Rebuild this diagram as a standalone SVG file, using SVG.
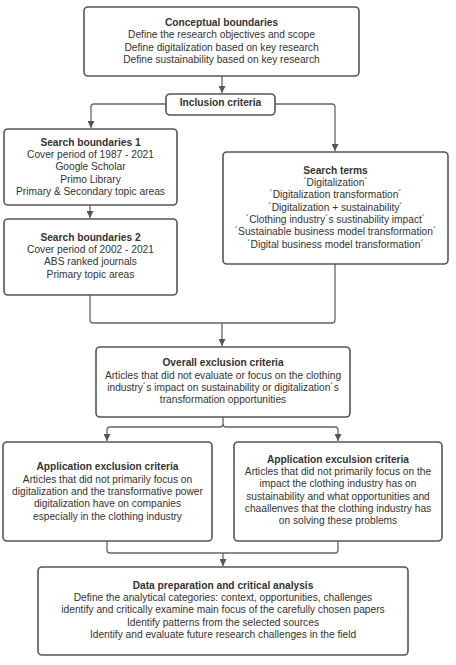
<svg xmlns="http://www.w3.org/2000/svg" width="456" height="665" viewBox="0 0 456 665">
<style>
.box{fill:#fff;stroke:#555;stroke-width:1.6}
.ln{fill:none;stroke:#666;stroke-width:1.3}
text{font-family:"Liberation Sans",Arial,sans-serif;font-size:10.2px;fill:#333;text-anchor:middle}
.t{font-weight:bold}
</style>
<defs>
<marker id="ah" viewBox="0 0 10 10" refX="10" refY="5" markerWidth="7" markerHeight="7" markerUnits="userSpaceOnUse" orient="auto">
<path d="M0,0 L10,5 L0,10 Z" fill="#555"/>
</marker>
</defs>
<rect width="456" height="665" fill="#fff"/>
<g id="connectors">
<path class="ln" d="M222,76 V93" marker-end="url(#ah)"/>
<path class="ln" d="M166,104 H94 Q91,104 91,107 V128" marker-end="url(#ah)"/>
<path class="ln" d="M275,104 H332 Q335,104 335,107 V151" marker-end="url(#ah)"/>
<path class="ln" d="M90,205 V218" marker-end="url(#ah)"/>
<path class="ln" d="M90,295 V320 Q90,323 93,323 H332 Q335,323 335,320 V264"/>
<path class="ln" d="M222,323 V346" marker-end="url(#ah)"/>
<path class="ln" d="M223,417 V424 Q223,427 220,427 H110 Q107,427 107,430 V441" marker-end="url(#ah)"/>
<path class="ln" d="M223,424 Q223,427 226,427 H335 Q338,427 338,430 V441" marker-end="url(#ah)"/>
<path class="ln" d="M107,541 V550 Q107,553 110,553 H335 Q338,553 338,550 V541"/>
<path class="ln" d="M223,553 V566" marker-end="url(#ah)"/>
</g>
<g id="conceptual">
<rect class="box" x="84" y="7" width="275" height="69" rx="4"/>
<text x="221.5" y="26" class="t">Conceptual boundaries</text>
<text x="221.5" y="38.3">Define the research objectives and scope</text>
<text x="221.5" y="50.6">Define digitalization based on key research</text>
<text x="221.5" y="62.9">Define sustainability based on key research</text>
</g>
<g id="inclusion">
<rect class="box" x="166" y="94" width="109" height="21" rx="4"/>
<text x="220.5" y="105.5" class="t">Inclusion criteria</text>
</g>
<g id="sb1">
<rect class="box" x="4" y="129" width="173" height="76" rx="4"/>
<text x="90.5" y="145.7" class="t">Search boundaries 1</text>
<text x="90.5" y="158">Cover period of 1987 - 2021</text>
<text x="90.5" y="170.3">Google Scholar</text>
<text x="90.5" y="182.6">Primo Library</text>
<text x="90.5" y="194.9">Primary &amp; Secondary topic areas</text>
</g>
<g id="sb2">
<rect class="box" x="4" y="219" width="173" height="76" rx="4"/>
<text x="90.5" y="240.7" class="t">Search boundaries 2</text>
<text x="90.5" y="253">Cover period of 2002 - 2021</text>
<text x="90.5" y="265.3">ABS ranked journals</text>
<text x="90.5" y="277.6">Primary topic areas</text>
</g>
<g id="terms">
<rect class="box" x="223" y="152" width="225" height="112" rx="4"/>
<text x="335.5" y="173.7" class="t">Search terms</text>
<text x="335.5" y="186">´Digitalization´</text>
<text x="335.5" y="198.3">´Digitalization transformation´</text>
<text x="335.5" y="210.6">´Digitalization + sustainability´</text>
<text x="335.5" y="222.9">´Clothing industry´s sustinability impact´</text>
<text x="335.5" y="235.2">´Sustainable business model transformation´</text>
<text x="335.5" y="247.5">´Digital business model transformation´</text>
</g>
<g id="overall">
<rect class="box" x="96" y="347" width="254" height="70" rx="4"/>
<text x="223" y="366" class="t">Overall exclusion criteria</text>
<text x="223" y="378.5">Articles that did not evaluate or focus on the clothing</text>
<text x="223" y="390.8">industry´s impact on sustainability or digitalization´s</text>
<text x="223" y="403.1">transformation opportunities</text>
</g>
<g id="app1">
<rect class="box" x="3" y="442" width="209" height="99" rx="4"/>
<text x="107.5" y="470.4" class="t">Application exclusion criteria</text>
<text x="107.5" y="482.7">Articles that did not primarily focus on</text>
<text x="107.5" y="495">digitalization and the transformative power</text>
<text x="107.5" y="507.3">digitalization have on companies</text>
<text x="107.5" y="519.6">especially in the clothing industry</text>
</g>
<g id="app2">
<rect class="box" x="234" y="442" width="208" height="99" rx="4"/>
<text x="338" y="462.7" class="t">Application exculsion criteria</text>
<text x="338" y="475">Articles that did not primarily focus on the</text>
<text x="338" y="487.3">impact the clothing industry  has on</text>
<text x="338" y="499.6">sustainability and what opportunities and</text>
<text x="338" y="511.9">chaallenves that the clothing industry has</text>
<text x="338" y="524.2">on solving these problems</text>
</g>
<g id="data">
<rect class="box" x="38" y="567" width="370" height="88" rx="4"/>
<text x="223" y="588.7" class="t">Data preparation and critical analysis</text>
<text x="223" y="601">Define the analytical categories: context, opportunities, challenges</text>
<text x="223" y="613.3">identify and critically examine main focus of the carefully chosen papers</text>
<text x="223" y="625.6">Identify patterns from the selected sources</text>
<text x="223" y="637.9">Identify and evaluate future research challenges in the field</text>
</g>
</svg>
